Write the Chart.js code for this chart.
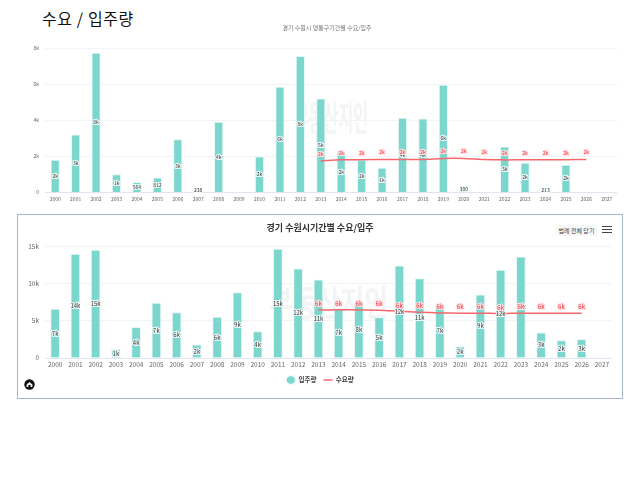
<!DOCTYPE html>
<html>
<head>
<meta charset="utf-8">
<script src="https://cdn.jsdelivr.net/npm/chart.js@4"></script>
<style>
  html, body { margin: 0; padding: 0; background: #fff; overflow: hidden; }
  body { width: 640px; height: 480px; position: relative; font-family: "Noto Sans CJK KR", sans-serif; }
  canvas { position: absolute; }
  #heading { position: absolute; left: 42px; top: 6px; font-size: 16px; letter-spacing: 0.6px; line-height: 24px; color: #111; white-space: nowrap; }
  #box { position: absolute; left: 17px; top: 214px; width: 604px; height: 183px; border: 1.5px solid #a9b5c9; }
  #topTitle { position: absolute; left: 227px; width: 200px; top: 23px; line-height: 10px; font-size: 6px; color: #777; text-align: center; white-space: nowrap; }
  #bottomTitle { position: absolute; left: 220px; width: 200px; top: 222px; line-height: 12px; font-size: 9px; font-weight: bold; color: #333; text-align: center; white-space: nowrap; }
  #closeAll { position: absolute; left: 556px; top: 225px; width: 41px; height: 11px; line-height: 11px; background: #f7f7f7; color: #444; font-size: 6px; text-align: center; white-space: nowrap; }
  #menu { position: absolute; left: 602px; top: 226px; width: 10px; height: 7px; border-top: 1.5px solid #444; border-bottom: 1.5px solid #444; box-sizing: border-box; }
  #menu:after { content: ""; position: absolute; left: 0; right: 0; top: 1.5px; height: 1.5px; background: #444; }
  #home { position: absolute; left: 24px; top: 379px; }
</style>
</head>
<body>
<div id="heading">수요 / 입주량</div>
<div id="box"></div>
<canvas id="topChart" width="626" height="190" style="left:14px;top:20px"></canvas>
<canvas id="bottomChart" width="604" height="182" style="left:18px;top:216px"></canvas>
<div id="topTitle">경기 수원시 영통구기간별 수요/입주</div>
<div id="bottomTitle">경기 수원시기간별 수요/입주</div>
<div id="closeAll">범례 전체 닫기</div>
<div id="menu"></div>
<svg id="home" width="11" height="11" viewBox="0 0 11 11">
  <circle cx="5.5" cy="5.5" r="5.2" fill="#0d0f14"/>
  <path d="M2.6 5.6 L5.5 3 L8.4 5.6 L8.4 8 L6.6 8 L6.6 6 L4.4 6 L4.4 8 L2.6 8 Z" fill="#f3f3f3"/>
</svg>
<script>
var years = ['2000','2001','2002','2003','2004','2005','2006','2007','2008','2009','2010','2011','2012','2013',
  '2014','2015','2016','2017','2018','2019','2020','2021','2022','2023','2024','2025','2026','2027'];

var topSupply = [1800,3200,7740,1000,564,812,2940,238,3900,null,1980,5850,7550,5200,
  2260,1800,1350,4130,4090,5960,300,null,2540,1630,213,1520,null,null];
var topDemand = [null,null,null,null,null,null,null,null,null,null,null,null,null,1760,
  1820,1820,1830,1830,1830,1890,1890,1830,1810,1820,1820,1820,1830,null];

var bottomSupply = [6600,14000,14550,1170,4140,7390,6130,1760,5500,8830,3560,14680,12030,10540,
  6710,7520,5450,12430,10720,7300,1530,8500,11850,13650,3380,2340,2500,null];
var bottomDemand = [null,null,null,null,null,null,null,null,null,null,null,null,null,6470,
  6490,6480,6450,6300,6170,6080,6040,6040,5990,6040,6040,6040,6040,null];

var seriesBar = '입주량';
var seriesLine = '수요량';
var fontName = '"Noto Sans CJK KR", sans-serif';

function shortNum(v) {
  if (v < 1000) return String(v);
  return Math.round(v / 1000) + 'k';
}

// labels on the bars and on the demand line, plus the faint watermark
var labelPlugin = {
  id: 'labelPlugin',
  beforeDatasetsDraw: function (chart, args, opts) {
    var c = chart.ctx, a = chart.chartArea;
    c.save();
    c.translate((a.left + a.right) / 2 + opts.markX, opts.markY);
    c.scale(opts.markScale, 1);
    c.font = 'bold 35px ' + fontName;
    c.fillStyle = '#f3f4f6';
    c.textAlign = 'center';
    c.textBaseline = 'middle';
    c.fillText('부동산지인', 0, 0);
    c.restore();
  },
  afterDatasetsDraw: function (chart, args, opts) {
    var c = chart.ctx;
    c.save();
    c.font = opts.size + 'px ' + fontName;
    c.textAlign = 'center';
    c.textBaseline = 'middle';
    c.lineJoin = 'round';
    c.lineWidth = 2;
    chart.data.datasets.forEach(function (ds, i) {
      var isLine = ds.type === 'line';
      chart.getDatasetMeta(i).data.forEach(function (el, j) {
        var v = ds.data[j];
        if (v === null) return;
        var y = isLine ? el.y - opts.lift : (el.y + el.base) / 2;
        var txt = shortNum(v);
        c.strokeStyle = isLine ? 'rgba(255,225,228,0.95)' : 'rgba(255,255,255,0.85)';
        c.strokeText(txt, el.x, y);
        c.fillStyle = isLine ? '#f0323c' : '#333';
        c.fillText(txt, el.x, y);
      });
    });
    c.restore();
  }
};

function makeChart(id, o) {
  return new Chart(document.getElementById(id), {
    data: {
      labels: years,
      datasets: [
        { type: 'bar', label: seriesBar, data: o.supply, order: 1, pointStyle: 'circle',
          backgroundColor: '#7bd6ce', borderColor: '#e4f7f5', borderWidth: 1,
          barThickness: o.barW },
        { type: 'line', label: seriesLine, data: o.demand, order: 0, pointStyle: 'line',
          borderColor: '#f4686e', backgroundColor: '#f4686e', borderWidth: o.lineW,
          pointRadius: 0, tension: 0.3 }
      ]
    },
    options: {
      responsive: false,
      animation: false,
      devicePixelRatio: 1,
      layout: { padding: o.padding },
      scales: {
        x: {
          grid: { display: false, drawTicks: false },
          border: { display: false },
          ticks: { color: '#666', autoSkip: false, maxRotation: 0, padding: o.xPad, font: { size: o.tickSize, family: fontName } },
          afterFit: function (s) { s.height = o.xHeight; }
        },
        y: {
          min: 0, max: o.max,
          grid: { drawTicks: false, color: function (ctx) { return ctx.tick.value === 0 ? '#dfe6f2' : '#f1f3f6'; } },
          border: { display: false },
          ticks: { stepSize: o.step, color: '#666', padding: 6, font: { size: o.tickSize, family: fontName },
            callback: function (v) { return v === 0 ? '0' : (v / 1000) + 'k'; } },
          afterFit: function (s) { s.width = o.yWidth; }
        }
      },
      plugins: {
        title: { display: false },
        legend: { display: o.legend, position: 'bottom',
          labels: { usePointStyle: true, boxHeight: 6, pointStyleWidth: 9, padding: 7, color: '#444',
            sort: function (a, b) { return a.datasetIndex - b.datasetIndex; },
            font: { size: 6.5, weight: 'bold', family: fontName } } },
        tooltip: { enabled: false },
        labelPlugin: { size: o.labelSize, lift: o.lift, markX: o.markX, markY: o.markY, markScale: o.markScale }
      }
    },
    plugins: [labelPlugin]
  });
}

makeChart('topChart', {
  supply: topSupply, demand: topDemand, max: 8000, step: 2000,
  barW: 8.5, lineW: 1.5, tickSize: 5, labelSize: 5, lift: 7,
  xHeight: 17.5, xPad: 4, yWidth: 31,
  padding: { left: 0, right: 23, top: 28.3, bottom: 0 },
  legend: false, markX: 0, markY: 98, markScale: 0.46
});

makeChart('bottomChart', {
  supply: bottomSupply, demand: bottomDemand, max: 15000, step: 5000,
  barW: 9, lineW: 1.5, tickSize: 6.5, labelSize: 6, lift: 6,
  xHeight: 11.75, xPad: 3, yWidth: 17,
  padding: { left: 10, right: 10, top: 30.7, bottom: 4.75 },
  legend: true, markX: 0, markY: 87, markScale: 0.74
});
</script>
</body>
</html>
